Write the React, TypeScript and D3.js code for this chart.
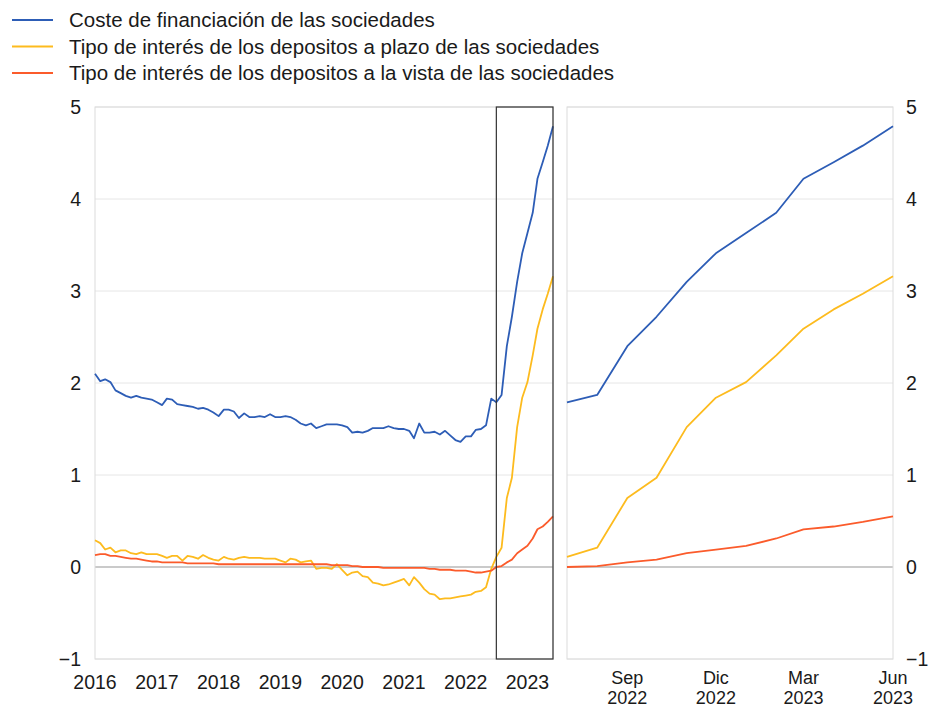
import * as d3 from 'd3';

// Monthly series, Jan 2016 - Jun 2023 (90 points)
const startMonth = new Date(2016, 0, 1);
const months = d3.timeMonth.range(startMonth, new Date(2023, 6, 1));

const costeFinanciacion = [
  2.10, 2.02, 2.04, 2.01, 1.92, 1.89, 1.86, 1.84, 1.86, 1.84, 1.83, 1.82,
  1.79, 1.76, 1.83, 1.82, 1.77, 1.76, 1.75, 1.74, 1.72, 1.73, 1.71, 1.68,
  1.64, 1.71, 1.71, 1.69, 1.62, 1.67, 1.63, 1.63, 1.64, 1.63, 1.66, 1.63,
  1.63, 1.64, 1.63, 1.60, 1.56, 1.54, 1.56, 1.51, 1.53, 1.55, 1.55, 1.55,
  1.54, 1.52, 1.46, 1.47, 1.46, 1.48, 1.51, 1.51, 1.51, 1.53, 1.51, 1.50,
  1.50, 1.48, 1.40, 1.56, 1.46, 1.46, 1.47, 1.44, 1.48, 1.43, 1.38, 1.36,
  1.42, 1.42, 1.49, 1.50, 1.54, 1.83,
  1.79, 1.87, 2.40, 2.72, 3.10, 3.41, 3.63, 3.85, 4.22, 4.40, 4.58, 4.79,
];

const depositosPlazo = [
  0.29, 0.26, 0.19, 0.21, 0.16, 0.18, 0.18, 0.15, 0.14, 0.16, 0.14, 0.14,
  0.14, 0.12, 0.10, 0.12, 0.12, 0.07, 0.12, 0.11, 0.09, 0.13, 0.10, 0.08,
  0.07, 0.11, 0.09, 0.08, 0.10, 0.11, 0.10, 0.10, 0.10, 0.09, 0.09, 0.09,
  0.07, 0.05, 0.09, 0.08, 0.05, 0.06, 0.07, -0.02, -0.01, -0.01, -0.02, 0.03,
  -0.03, -0.09, -0.06, -0.05, -0.10, -0.11, -0.17, -0.18, -0.20, -0.19, -0.17, -0.15,
  -0.13, -0.20, -0.11, -0.17, -0.24, -0.29, -0.30, -0.35, -0.34, -0.34, -0.33, -0.32,
  -0.31, -0.30, -0.27, -0.26, -0.22, -0.02,
  0.11, 0.21, 0.75, 0.97, 1.52, 1.84, 2.01, 2.30, 2.59, 2.80, 2.97, 3.16,
];

const depositosVista = [
  0.13, 0.14, 0.14, 0.12, 0.12, 0.11, 0.10, 0.09, 0.09, 0.08, 0.07, 0.06,
  0.06, 0.05, 0.05, 0.05, 0.05, 0.05, 0.04, 0.04, 0.04, 0.04, 0.04, 0.04,
  0.03, 0.03, 0.03, 0.03, 0.03, 0.03, 0.03, 0.03, 0.03, 0.03, 0.03, 0.03,
  0.03, 0.03, 0.03, 0.03, 0.03, 0.03, 0.03, 0.03, 0.03, 0.03, 0.02, 0.02,
  0.02, 0.02, 0.01, 0.01, 0.00, 0.00, 0.00, 0.00, -0.01, -0.01, -0.01, -0.01,
  -0.01, -0.01, -0.01, -0.01, -0.01, -0.02, -0.02, -0.03, -0.03, -0.03, -0.04, -0.04,
  -0.04, -0.05, -0.06, -0.06, -0.05, -0.04,
  0.00, 0.01, 0.05, 0.08, 0.15, 0.19, 0.23, 0.31, 0.41, 0.44, 0.49, 0.55,
];

const seriesNames = [
  'Coste de financiación de las sociedades',
  'Tipo de interés de los depositos a plazo de las sociedades',
  'Tipo de interés de los depositos a la vista de las sociedades',
];
const seriesColors = ['#2d5db6', '#fdbb1e', '#fb5b2b'];
const seriesValues = [costeFinanciacion, depositosPlazo, depositosVista];

const yTicks = [-1, 0, 1, 2, 3, 4, 5];
const yearTicks = [2016, 2017, 2018, 2019, 2020, 2021, 2022, 2023];
const zoomTicks = [
  { date: new Date(2022, 8, 1), month: 'Sep', year: '2022' },
  { date: new Date(2022, 11, 1), month: 'Dic', year: '2022' },
  { date: new Date(2023, 2, 1), month: 'Mar', year: '2023' },
  { date: new Date(2023, 5, 1), month: 'Jun', year: '2023' },
];
const zoomStart = new Date(2022, 6, 1);
const zoomEnd = new Date(2023, 5, 1);

const W = 930;
const H = 708;
const FONT = '"Liberation Sans", Arial, Helvetica, sans-serif';
const TICK_SIZE = 19.5;

export default function App() {
  const y = d3.scaleLinear().domain([-1, 5]).range([659, 107]);
  const xLeft = d3.scaleTime().domain([startMonth, zoomEnd]).range([95, 553]);
  const xRight = d3.scaleTime().domain([zoomStart, zoomEnd]).range([567, 893]);

  const rows = seriesValues.map((vals) => months.map((d, i) => ({ d, v: vals[i] })));
  const lineLeft = d3.line<{ d: Date; v: number }>().x((p) => xLeft(p.d)).y((p) => y(p.v));
  const lineRight = d3.line<{ d: Date; v: number }>().x((p) => xRight(p.d)).y((p) => y(p.v));

  const panels = [
    { x0: 95, x1: 553 },
    { x0: 567, x1: 893 },
  ];
  const fmt = (t: number) => (t < 0 ? `\u2212${-t}` : String(t));

  return (
    <div style={{ position: 'absolute', left: 0, top: 0 }}>
      <svg width={W} height={H} style={{ display: 'block', fontFamily: FONT }}>
        <rect width={W} height={H} fill="#fff" />

        {/* legend */}
        {seriesNames.map((name, i) => (
          <g key={name} transform={`translate(0,${20 + i * 26.5})`}>
            <line x1={12} x2={53} y1={0} y2={0} stroke={seriesColors[i]} strokeWidth={2} />
            <text x={69} y={7} fontSize={20.5} fill="#1a1a1a">{name}</text>
          </g>
        ))}

        {/* panels, gridlines */}
        {panels.map((p, pi) => (
          <g key={pi}>
            {yTicks.map((t) => (
              <line key={t} x1={p.x0} x2={p.x1} y1={y(t)} y2={y(t)}
                stroke={t === 0 ? '#b8b8b8' : '#e6e6e6'} strokeWidth={t === 0 ? 1.3 : 1} />
            ))}
            <rect x={p.x0} y={y(5)} width={p.x1 - p.x0} height={y(-1) - y(5)}
              fill="none" stroke="#dcdcdc" strokeWidth={1} />
          </g>
        ))}

        {/* y labels */}
        {yTicks.map((t) => (
          <g key={t}>
            <text x={81} y={y(t) + 7} textAnchor="end" fontSize={TICK_SIZE} fill="#1a1a1a">{fmt(t)}</text>
            <text x={906} y={y(t) + 7} textAnchor="start" fontSize={TICK_SIZE} fill="#1a1a1a">{fmt(t)}</text>
          </g>
        ))}

        {/* x labels */}
        {yearTicks.map((yr) => (
          <text key={yr} x={xLeft(new Date(yr, 0, 1))} y={689} textAnchor="middle" fontSize={TICK_SIZE} fill="#1a1a1a">
            {yr}
          </text>
        ))}
        {zoomTicks.map((t) => (
          <g key={t.month}>
            <text x={xRight(t.date)} y={683.5} textAnchor="middle" fontSize={18} fill="#1a1a1a">{t.month}</text>
            <text x={xRight(t.date)} y={704} textAnchor="middle" fontSize={18} fill="#1a1a1a">{t.year}</text>
          </g>
        ))}

        {/* lines */}
        {rows.map((r, i) => (
          <path key={`l${i}`} d={lineLeft(r) || ''} fill="none" stroke={seriesColors[i]}
            strokeWidth={1.8} strokeLinejoin="round" />
        ))}
        {rows.map((r, i) => (
          <path key={`r${i}`} d={lineRight(r.filter((p) => p.d >= zoomStart)) || ''} fill="none"
            stroke={seriesColors[i]} strokeWidth={1.8} strokeLinejoin="round" />
        ))}

        {/* zoom window marker */}
        <rect x={xLeft(zoomStart)} y={y(5)} width={xLeft(zoomEnd) - xLeft(zoomStart)}
          height={y(-1) - y(5)} fill="none" stroke="#333" strokeWidth={1.2} />
      </svg>
    </div>
  );
}
